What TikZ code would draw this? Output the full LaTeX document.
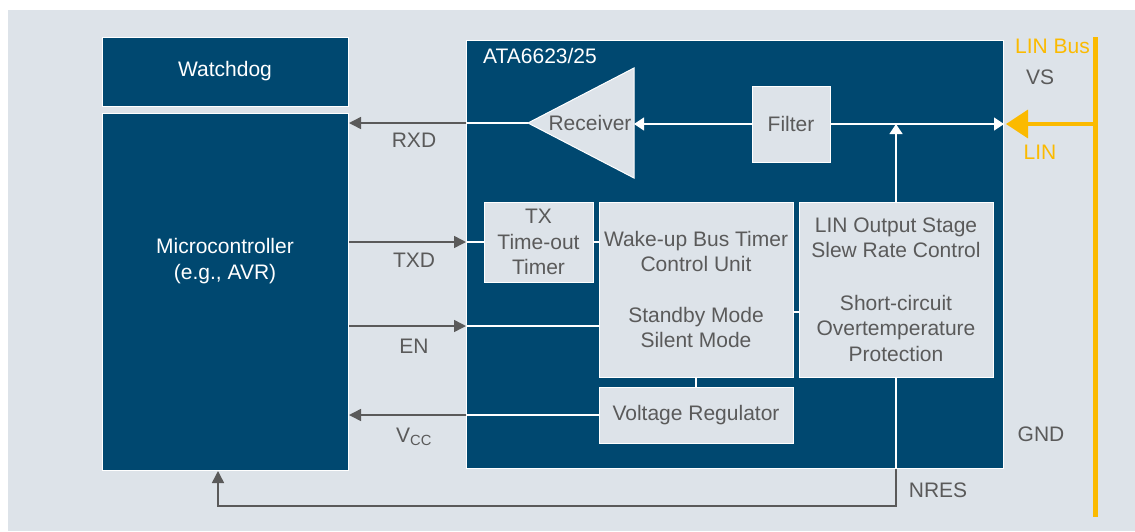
\documentclass[tikz,border=0pt]{standalone}
\usepackage{fontspec}
\setmainfont{Liberation Sans}
\usetikzlibrary{arrows.meta,positioning,calc}
\definecolor{AtaNavy}{HTML}{004870}
\definecolor{AtaLight}{HTML}{DDE3E9}
\definecolor{AtaGray}{HTML}{5A5A5A}
\definecolor{AtaOrange}{HTML}{FBBA00}

\begin{document}
\begin{tikzpicture}[
        x=1pt,y=-1pt,
        font=\fontsize{21}{25.5}\selectfont,
        dbox/.style={draw=white,line width=1pt,fill=AtaNavy,text=white,align=center,inner sep=0pt},
        lbox/.style={draw=white,line width=1pt,fill=AtaLight,text=AtaGray,align=center,inner sep=0pt},
        lab/.style={text=AtaGray,inner sep=0pt},
        olab/.style={text=AtaOrange,inner sep=0pt},
        wline/.style={white,line width=1.3pt},
        warr/.style={wline,-{Triangle[length=10pt,width=13pt]}},
        gline/.style={AtaGray,line width=1.5pt},
        garr/.style={gline,-{Triangle[length=12pt,width=12pt]}},
        obar/.style={AtaOrange,line width=5pt},
        oarr/.style={AtaOrange,line width=3.5pt,-{Triangle[length=22pt,width=28pt]}}
      ]
        \useasboundingbox (0,0) rectangle (1135,531);
        \fill[white] (0,0) rectangle (1135,531);
        \fill[AtaLight] (8,10) rectangle (1135,531);
        % host side
        \node[dbox,minimum width=246,minimum height=69] (wdog) at (225,71.5) {Watchdog};
        \node[dbox,anchor=north west,minimum width=246,minimum height=357] (mcu) at (102,113) {};
        \node[text=white,align=center,inner sep=0pt] (mcutxt) at (225,261) {Microcontroller\\(e.g., AVR)};
        % transceiver
        \node[dbox,anchor=north west,minimum width=537,minimum height=428] (chip) at (466,40) {};
        \node[text=white,anchor=west,inner sep=0pt] (chipl) at (483,56) {ATA6623/25};
        \coordinate (rxtip) at (528,123);
        \coordinate (rxbase) at (634,123);
        \draw[lbox] (rxtip) -- (634,68) -- (634,178) -- cycle;
        \node[lab] (rxtxt) at (590,123) {Receiver};
        \node[lbox,minimum width=78,minimum height=76] (filter) at (791,124) {Filter};
        \node[lbox,minimum width=109,minimum height=80] (tx) at (538.5,242) {TX\\Time-out\\Timer};
        \node[lbox,minimum width=194,minimum height=175] (wake) at (696,289.5) {Wake-up Bus Timer\\Control Unit\\[25pt]Standby Mode\\Silent Mode};
        \node[lbox,minimum width=194,minimum height=175] (lin) at (896,289.5) {LIN Output Stage\\Slew Rate Control\\[27pt]Short-circuit\\Overtemperature\\Protection};
        \node[lbox,minimum width=194,minimum height=56] (vreg) at (696,415) {Voltage Regulator};
        % LIN bus
        \coordinate (bustop) at (1095,37);
        \coordinate (busbot) at (1095,517);
        \coordinate (enpin) at (466,326);
        \coordinate (linpin) at (799,312);
        \coordinate (nresbend) at (218,506);
        \draw[obar] (bustop) -- (busbot);
        \draw[oarr] (bustop|-filter.east) -- ([xshift=2pt]chip.east|-filter.east);
        % connectors
        \draw[warr] (filter.west) -- (filter.west-|rxbase);
        \draw[wline] (rxtip) -- (chip.west|-rxtip);
        \draw[garr] (chip.west|-rxtip) -- (mcu.east|-rxtip);
        \draw[warr] (filter.east) -- (chip.east|-filter.east);
        \draw[warr] (lin.north) -- (lin.north|-filter.east);
        \draw[garr] (mcu.east|-tx.west) -- (chip.west|-tx.west);
        \draw[wline] (chip.west|-tx.west) -- (tx.west);
        \draw[wline] (tx.east) -- (tx.east-|wake.west);
        \draw[garr] (mcu.east|-enpin) -- (enpin);
        \draw[wline] (enpin) -- (enpin-|wake.west);
        \draw[wline] (linpin-|wake.east) -- (linpin);
        \draw[wline] (wake.south) -- (vreg.north);
        \draw[wline] (vreg.west) -- (chip.west|-vreg.west);
        \draw[garr] (chip.west|-vreg.west) -- (mcu.east|-vreg.west);
        \draw[wline] (lin.south) -- (lin.south|-chip.south);
        \draw[garr] (lin.south|-chip.south) |- (nresbend) -- (nresbend|-mcu.south);
        % labels
        \node[lab] (rxdl) at (414,140) {RXD};
        \node[lab] (txdl) at (414,260) {TXD};
        \node[lab] (enl) at (414,346) {EN};
        \node[lab] (vccl) at (414,437) {V\textsubscript{CC}};
        \node[olab,anchor=east] (busl) at (1090,46) {LIN Bus};
        \node[lab] (vsl) at (1040,77) {VS};
        \node[olab] (linl) at (1040,152) {LIN};
        \node[lab] (gndl) at (1041,434) {GND};
        \node[lab] (nresl) at (938,490) {NRES};
      \end{tikzpicture}
\end{document}
